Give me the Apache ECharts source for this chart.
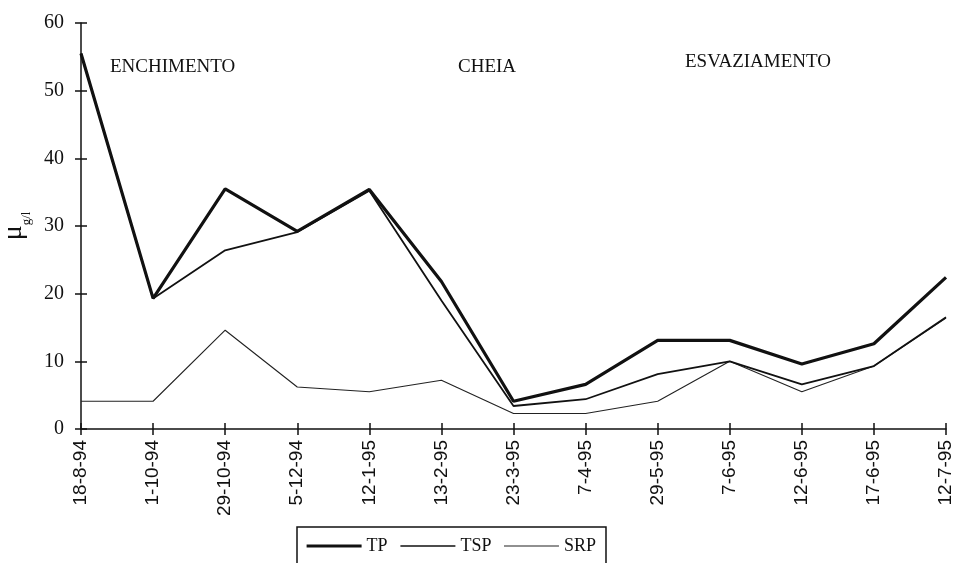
<!DOCTYPE html>
<html>
<head>
    <meta charset="UTF-8">
    <title>TP TSP SRP</title>
    <script src="https://cdn.jsdelivr.net/npm/echarts@6/dist/echarts.min.js"></script>
    <style>
        html, body { margin: 0; padding: 0; background: #fff; }
    </style>
</head>
<body>
<div id="chart" style="width: 955px;height:563px;"></div>

<script type="text/javascript">
    // datas de amostragem
    var dates = ['18-8-94', '1-10-94', '29-10-94', '5-12-94', '12-1-95', '13-2-95', '23-3-95',
        '7-4-95', '29-5-95', '7-6-95', '12-6-95', '17-6-95', '12-7-95'];

    // valores (ug/l)
    var tp  = [55.5, 19.3, 35.5, 29.2, 35.4, 21.8, 4.1, 6.6, 13.1, 13.1, 9.6, 12.6, 22.4];
    var tsp = [55.5, 19.3, 26.4, 29.1, 35.2, 19.0, 3.4, 4.4, 8.1, 10.0, 6.6, 9.3, 16.5];
    var srp = [4.1, 4.1, 14.6, 6.2, 5.5, 7.2, 2.3, 2.3, 4.1, 10.0, 5.5, 9.3, 16.4];

    var yTicks = [0, 10, 20, 30, 40, 50, 60];

    // fases
    var fases = ['ENCHIMENTO', 'CHEIA', 'ESVAZIAMENTO'];

    var chart = echarts.init(document.getElementById('chart'));

    var serif = 'Liberation Serif';

    var option = {
        backgroundColor: '#fff',
        animation: false,
        grid: { left: 81, right: 9, top: 23, bottom: 134, outerBoundsMode: 'none', containLabel: false },
        graphic: [
            { type: 'text', left: 110, top: 58, style: { text: fases[0], font: '19px "Liberation Serif"', fill: '#111' } },
            { type: 'text', left: 458, top: 58, style: { text: fases[1], font: '19px "Liberation Serif"', fill: '#111' } },
            { type: 'text', left: 685, top: 53, style: { text: fases[2], font: '19px "Liberation Serif"', fill: '#111' } }
        ],
        legend: {
            data: [
                { name: 'TP', lineStyle: { width: 3.2, color: '#111' } },
                { name: 'TSP', lineStyle: { width: 1.6, color: '#111' } },
                { name: 'SRP', lineStyle: { width: 1.1, color: '#222' } }
            ],
            left: 297,
            top: 527,
            itemWidth: 55,
            itemHeight: 10,
            itemGap: 12,
            padding: [10, 10, 20, 8],
            borderColor: '#111',
            borderWidth: 1.5,
            itemStyle: { opacity: 0 },
            textStyle: { fontFamily: serif, fontSize: 18, color: '#111' }
        },
        xAxis: [
            {
                type: 'category',
                data: dates,
                boundaryGap: false,
                axisLine: { lineStyle: { color: '#111', width: 1.5 } },
                axisTick: { inside: false, length: 6, lineStyle: { color: '#111', width: 1.5 } },
                axisLabel: {
                    rotate: 90,
                    margin: 11,
                    interval: 0,
                    fontFamily: 'Liberation Sans',
                    fontSize: 19,
                    color: '#111'
                },
                splitLine: { show: false }
            },
            {
                type: 'category',
                data: dates,
                boundaryGap: false,
                position: 'bottom',
                axisLine: { show: false },
                axisTick: { inside: true, length: 6, lineStyle: { color: '#111', width: 1.5 } },
                axisLabel: { show: false },
                splitLine: { show: false }
            }
        ],
        yAxis: [
            {
                type: 'value',
                min: yTicks[0],
                max: yTicks[yTicks.length - 1],
                interval: 10,
                name: '{a|μ}{b|g/l}',
                nameLocation: 'middle',
                nameGap: 52,
                nameTextStyle: {
                    rich: {
                        a: { fontFamily: serif, fontSize: 28, color: '#111' },
                        b: { fontFamily: serif, fontSize: 13, color: '#111', verticalAlign: 'bottom', padding: [0, 0, -5, 0] }
                    }
                },
                axisLine: { show: true, lineStyle: { color: '#111', width: 1.5 } },
                axisTick: { show: true, inside: false, length: 6, lineStyle: { color: '#111', width: 1.5 } },
                axisLabel: { margin: 17, fontFamily: serif, fontSize: 20, color: '#111' },
                splitLine: { show: false }
            },
            {
                type: 'value',
                min: yTicks[0],
                max: yTicks[yTicks.length - 1],
                interval: 10,
                position: 'left',
                axisLine: { show: false },
                axisTick: { show: true, inside: true, length: 6, lineStyle: { color: '#111', width: 1.5 } },
                axisLabel: { show: false },
                splitLine: { show: false }
            }
        ],
        series: [
            {
                name: 'TP',
                type: 'line',
                data: tp,
                symbol: 'none',
                lineStyle: { color: '#111', width: 3.2 },
                itemStyle: { color: '#111' },
                z: 4
            },
            {
                name: 'TSP',
                type: 'line',
                data: tsp,
                symbol: 'none',
                lineStyle: { color: '#111', width: 1.8 },
                itemStyle: { color: '#111' },
                z: 3
            },
            {
                name: 'SRP',
                type: 'line',
                data: srp,
                symbol: 'none',
                lineStyle: { color: '#222', width: 1.1 },
                itemStyle: { color: '#222' },
                z: 2
            }
        ]
    };

    chart.setOption(option);
</script>
</body>
</html>
